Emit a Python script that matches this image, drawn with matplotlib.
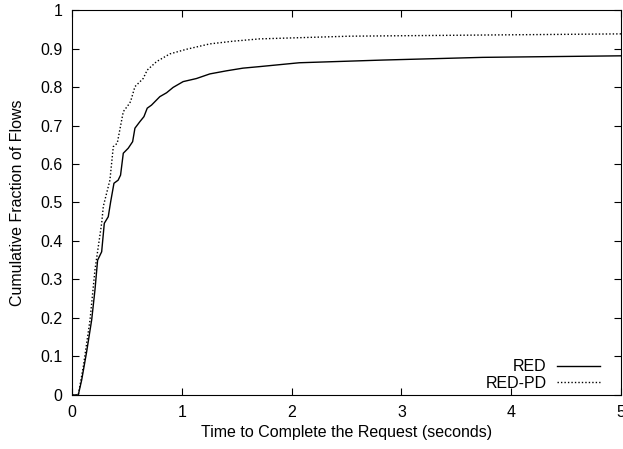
import matplotlib.pyplot as plt

plt.rcParams['font.family'] = ['Liberation Sans', 'DejaVu Sans']

# CDF points
red_t = [0.0, 0.057, 0.088, 0.133, 0.179, 0.209, 0.233, 0.248, 0.27, 0.294, 0.33,
         0.352, 0.382, 0.42, 0.442, 0.467, 0.512, 0.552, 0.573, 0.618, 0.655,
         0.685, 0.724, 0.8, 0.861, 0.921, 1.012, 1.133, 1.255, 1.406, 1.557,
         1.709, 2.07, 2.83, 3.74, 5.0]
red_f = [0.0, 0.0, 0.039, 0.112, 0.195, 0.273, 0.35, 0.359, 0.372, 0.446, 0.463,
         0.502, 0.55, 0.558, 0.571, 0.628, 0.641, 0.658, 0.693, 0.71, 0.723,
         0.745, 0.753, 0.775, 0.785, 0.799, 0.814, 0.822, 0.834, 0.842, 0.849,
         0.853, 0.863, 0.870, 0.877, 0.881]

redpd_t = [0.0, 0.057, 0.103, 0.164, 0.209, 0.239, 0.27, 0.285, 0.315, 0.345,
           0.376, 0.412, 0.467, 0.512, 0.533, 0.573, 0.648, 0.685, 0.77, 0.891,
           1.042, 1.255, 1.467, 1.709, 2.527, 3.74, 5.0]
redpd_f = [0.0, 0.0, 0.074, 0.195, 0.325, 0.385, 0.446, 0.49, 0.524, 0.558,
           0.645, 0.654, 0.736, 0.753, 0.762, 0.801, 0.822, 0.844, 0.866, 0.886,
           0.898, 0.912, 0.919, 0.925, 0.932, 0.935, 0.938]

fig = plt.figure(figsize=(6.23, 4.49), dpi=100)
ax = fig.add_axes([0.1156, 0.1203, 0.8812, 0.8574])

ax.plot(red_t, red_f, color='black', lw=1.0, label='RED')
ax.plot(redpd_t, redpd_f, color='black', lw=1.0, linestyle=(0, (1, 1.5)), label='RED-PD')

ax.set_xlim(0, 5)
ax.set_ylim(0, 1)
ax.set_xticks([0, 1, 2, 3, 4, 5])
ax.set_yticks([i / 10 for i in range(11)])
ax.set_yticklabels(['0', '0.1', '0.2', '0.3', '0.4', '0.5', '0.6', '0.7', '0.8', '0.9', '1'])
ax.tick_params(direction='in', top=True, right=True, length=5, labelsize=11.5, pad=7)

ax.set_xlabel('Time to Complete the Request (seconds)', fontsize=11.5, labelpad=4)
ax.set_ylabel('Cumulative Fraction of Flows', fontsize=11.5, labelpad=10.5)

ax.legend(loc='lower right', bbox_to_anchor=(0.973, -0.006), frameon=False,
          markerfirst=False, fontsize=11.5, handlelength=2.7, handletextpad=0.63,
          labelspacing=0.1, borderaxespad=0)

fig.savefig('out.png', dpi=100)
